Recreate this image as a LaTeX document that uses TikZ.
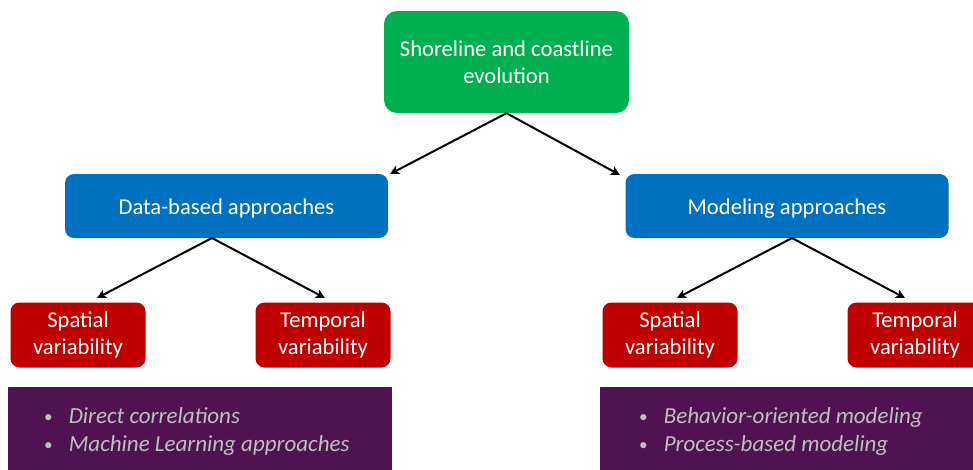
\documentclass[tikz,border=0pt]{standalone}
\usepackage{fontspec}
\setmainfont{Carlito}
\usetikzlibrary{arrows.meta,calc}
\definecolor{cgreen}{HTML}{00B050}
\definecolor{cblue}{HTML}{0070C0}
\definecolor{cred}{HTML}{C00000}
\definecolor{cpurple}{HTML}{501352}
\definecolor{cgray}{HTML}{BFBFBF}
\tikzset{
  boxbase/.style={inner sep=0pt, text=white, align=center,
    font=\fontsize{22.6}{27.5}\selectfont,
    execute at begin node={\rule{0pt}{21.5pt}}},
  topbox/.style={boxbase, fill=cgreen, rounded corners=13pt,
    minimum width=245pt, minimum height=102pt},
  midbox/.style={boxbase, fill=cblue, rounded corners=9pt,
    minimum width=323pt, minimum height=64pt},
  lowbox/.style={boxbase, fill=cred, rounded corners=9pt,
    minimum width=135pt, minimum height=65pt},
  listbox/.style={fill=cpurple, inner sep=0pt, anchor=north west},
  listtext/.style={inner sep=0pt, anchor=west, text=cgray, align=left,
    font=\fontsize{23}{28}\selectfont},
  conn/.style={draw=black, line width=2pt,
    -{Stealth[length=9pt,width=9pt,inset=2pt]}}
}
\newcommand{\bulitem}[1]{\raisebox{1pt}{\scalebox{0.75}{\textup{\textbullet}}}\hspace{16pt}\textit{#1}}
\begin{document}
\begin{tikzpicture}[x=1pt,y=-1pt]
\useasboundingbox (0,0) rectangle (973,469);
\clip (0,0) rectangle (973,469);
% purple boxes
\node[listbox, minimum width=384pt, minimum height=120pt] (lp) at (8,387) {};
\node[listbox, minimum width=400pt, minimum height=120pt] (rp) at (600,387) {};
\node[listtext] (lpt) at (44,431) {\bulitem{Direct correlations}\\ \bulitem{Machine Learning approaches}};
\node[listtext] (rpt) at (639,431) {\bulitem{Behavior-oriented modeling}\\ \bulitem{Process-based modeling}};
% boxes
\node[topbox] (top) at (506.5,62) {Shoreline and coastline\\evolution};
\node[midbox] (dba) at (226.5,206) {Data-based approaches};
\node[midbox] (ma) at (787,206) {Modeling approaches};
\node[lowbox] (ls) at (78,335) {Spatial\\variability};
\node[lowbox] (lt) at (323,335) {Temporal\\variability};
\node[lowbox] (rs) at (670,335) {Spatial\\variability};
\node[lowbox] (rt) at (915,335) {Temporal\\variability};
% connector endpoints
\coordinate (tl) at (390,174);
\coordinate (tr) at (620,175);
\coordinate (ds) at (212,238);
\coordinate (ms) at (792,238);
\coordinate (lsa) at (97,298);
\coordinate (lta) at (325,298);
\coordinate (rsa) at (677,298);
\coordinate (rta) at (905,298);
\draw[conn] (top.south) -- (tl);
\draw[conn] (top.south) -- (tr);
\draw[conn] (ds) -- (lsa);
\draw[conn] (ds) -- (lta);
\draw[conn] (ms) -- (rsa);
\draw[conn] (ms) -- (rta);
\end{tikzpicture}
\end{document}
